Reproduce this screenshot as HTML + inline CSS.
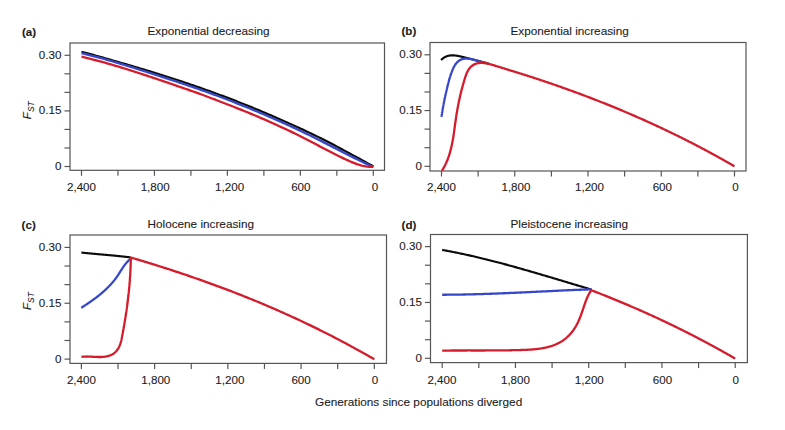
<!DOCTYPE html>
<html><head><meta charset="utf-8"><style>
html,body{margin:0;padding:0;background:#fff;}
svg{display:block;}
.t{font-family:"Liberation Sans",sans-serif;font-size:11.6px;fill:#1c1c1c;stroke:#1c1c1c;stroke-width:0.1px;}
.b{font-weight:bold;}
</style></head><body>
<svg width="785" height="430" viewBox="0 0 785 430">
<rect width="785" height="430" fill="#fff"/>
<defs>
<clipPath id="ca"><rect x="70" y="43" width="314.5" height="127.3"/></clipPath>
<clipPath id="cb"><rect x="430" y="42.5" width="316" height="128.5"/></clipPath>
<clipPath id="cc"><rect x="70" y="235" width="316.5" height="128.4"/></clipPath>
<clipPath id="cd"><rect x="430.5" y="234.5" width="316.9" height="128.1"/></clipPath>
</defs>
<rect x="70" y="43" width="314.5" height="127.30000000000001" fill="none" stroke="#555" stroke-width="1.2"/>
<line x1="81.50" y1="170.3" x2="81.50" y2="175.8" stroke="#555" stroke-width="1.2"/>
<line x1="117.97" y1="170.3" x2="117.97" y2="175.8" stroke="#555" stroke-width="1.2"/>
<line x1="154.45" y1="170.3" x2="154.45" y2="175.8" stroke="#555" stroke-width="1.2"/>
<line x1="190.93" y1="170.3" x2="190.93" y2="175.8" stroke="#555" stroke-width="1.2"/>
<line x1="227.40" y1="170.3" x2="227.40" y2="175.8" stroke="#555" stroke-width="1.2"/>
<line x1="263.88" y1="170.3" x2="263.88" y2="175.8" stroke="#555" stroke-width="1.2"/>
<line x1="300.35" y1="170.3" x2="300.35" y2="175.8" stroke="#555" stroke-width="1.2"/>
<line x1="336.83" y1="170.3" x2="336.83" y2="175.8" stroke="#555" stroke-width="1.2"/>
<line x1="373.30" y1="170.3" x2="373.30" y2="175.8" stroke="#555" stroke-width="1.2"/>
<text x="81.50" y="190.60" text-anchor="middle" class="t">2,400</text>
<text x="155.15" y="190.60" text-anchor="middle" class="t">1,800</text>
<text x="229.60" y="190.60" text-anchor="middle" class="t">1,200</text>
<text x="300.85" y="190.60" text-anchor="middle" class="t">600</text>
<text x="374.90" y="190.60" text-anchor="middle" class="t">0</text>
<line x1="64.5" y1="166.50" x2="70" y2="166.50" stroke="#555" stroke-width="1.2"/>
<line x1="64.5" y1="147.97" x2="70" y2="147.97" stroke="#555" stroke-width="1.2"/>
<line x1="64.5" y1="129.43" x2="70" y2="129.43" stroke="#555" stroke-width="1.2"/>
<line x1="64.5" y1="110.90" x2="70" y2="110.90" stroke="#555" stroke-width="1.2"/>
<line x1="64.5" y1="92.37" x2="70" y2="92.37" stroke="#555" stroke-width="1.2"/>
<line x1="64.5" y1="73.83" x2="70" y2="73.83" stroke="#555" stroke-width="1.2"/>
<line x1="64.5" y1="55.30" x2="70" y2="55.30" stroke="#555" stroke-width="1.2"/>
<text x="61.40" y="170.00" text-anchor="end" class="t">0</text>
<text x="61.40" y="114.40" text-anchor="end" class="t">0.15</text>
<text x="61.40" y="58.80" text-anchor="end" class="t">0.30</text>
<text x="22" y="35.6" class="t b">(a)</text>
<text x="147.5" y="34.7" class="t" style="font-size:11.75px">Exponential decreasing</text>
<text transform="translate(31,119.20) rotate(-90)" class="t"><tspan font-style="italic">F</tspan><tspan font-style="italic" font-size="8.4" dy="2.8">ST</tspan></text>
<rect x="430" y="42.5" width="316" height="128.5" fill="none" stroke="#555" stroke-width="1.2"/>
<line x1="441.50" y1="171" x2="441.50" y2="176.5" stroke="#555" stroke-width="1.2"/>
<line x1="478.12" y1="171" x2="478.12" y2="176.5" stroke="#555" stroke-width="1.2"/>
<line x1="514.75" y1="171" x2="514.75" y2="176.5" stroke="#555" stroke-width="1.2"/>
<line x1="551.38" y1="171" x2="551.38" y2="176.5" stroke="#555" stroke-width="1.2"/>
<line x1="588.00" y1="171" x2="588.00" y2="176.5" stroke="#555" stroke-width="1.2"/>
<line x1="624.62" y1="171" x2="624.62" y2="176.5" stroke="#555" stroke-width="1.2"/>
<line x1="661.25" y1="171" x2="661.25" y2="176.5" stroke="#555" stroke-width="1.2"/>
<line x1="697.88" y1="171" x2="697.88" y2="176.5" stroke="#555" stroke-width="1.2"/>
<line x1="734.50" y1="171" x2="734.50" y2="176.5" stroke="#555" stroke-width="1.2"/>
<text x="441.50" y="191.30" text-anchor="middle" class="t">2,400</text>
<text x="515.95" y="191.30" text-anchor="middle" class="t">1,800</text>
<text x="589.50" y="191.30" text-anchor="middle" class="t">1,200</text>
<text x="662.35" y="191.30" text-anchor="middle" class="t">600</text>
<text x="735.40" y="191.30" text-anchor="middle" class="t">0</text>
<line x1="424.5" y1="166.30" x2="430" y2="166.30" stroke="#555" stroke-width="1.2"/>
<line x1="424.5" y1="147.72" x2="430" y2="147.72" stroke="#555" stroke-width="1.2"/>
<line x1="424.5" y1="129.13" x2="430" y2="129.13" stroke="#555" stroke-width="1.2"/>
<line x1="424.5" y1="110.55" x2="430" y2="110.55" stroke="#555" stroke-width="1.2"/>
<line x1="424.5" y1="91.97" x2="430" y2="91.97" stroke="#555" stroke-width="1.2"/>
<line x1="424.5" y1="73.38" x2="430" y2="73.38" stroke="#555" stroke-width="1.2"/>
<line x1="424.5" y1="54.80" x2="430" y2="54.80" stroke="#555" stroke-width="1.2"/>
<text x="421.90" y="169.80" text-anchor="end" class="t">0</text>
<text x="421.90" y="114.05" text-anchor="end" class="t">0.15</text>
<text x="421.90" y="58.30" text-anchor="end" class="t">0.30</text>
<text x="401.5" y="35.3" class="t b">(b)</text>
<text x="510.5" y="34.7" class="t" style="font-size:11.75px">Exponential increasing</text>
<rect x="70" y="235" width="316.5" height="128.39999999999998" fill="none" stroke="#555" stroke-width="1.2"/>
<line x1="81.40" y1="363.4" x2="81.40" y2="368.9" stroke="#555" stroke-width="1.2"/>
<line x1="118.01" y1="363.4" x2="118.01" y2="368.9" stroke="#555" stroke-width="1.2"/>
<line x1="154.62" y1="363.4" x2="154.62" y2="368.9" stroke="#555" stroke-width="1.2"/>
<line x1="191.24" y1="363.4" x2="191.24" y2="368.9" stroke="#555" stroke-width="1.2"/>
<line x1="227.85" y1="363.4" x2="227.85" y2="368.9" stroke="#555" stroke-width="1.2"/>
<line x1="264.46" y1="363.4" x2="264.46" y2="368.9" stroke="#555" stroke-width="1.2"/>
<line x1="301.07" y1="363.4" x2="301.07" y2="368.9" stroke="#555" stroke-width="1.2"/>
<line x1="337.69" y1="363.4" x2="337.69" y2="368.9" stroke="#555" stroke-width="1.2"/>
<line x1="374.30" y1="363.4" x2="374.30" y2="368.9" stroke="#555" stroke-width="1.2"/>
<text x="81.40" y="383.70" text-anchor="middle" class="t">2,400</text>
<text x="155.82" y="383.70" text-anchor="middle" class="t">1,800</text>
<text x="229.85" y="383.70" text-anchor="middle" class="t">1,200</text>
<text x="301.07" y="383.70" text-anchor="middle" class="t">600</text>
<text x="375.10" y="383.70" text-anchor="middle" class="t">0</text>
<line x1="64.5" y1="359.10" x2="70" y2="359.10" stroke="#555" stroke-width="1.2"/>
<line x1="64.5" y1="340.48" x2="70" y2="340.48" stroke="#555" stroke-width="1.2"/>
<line x1="64.5" y1="321.87" x2="70" y2="321.87" stroke="#555" stroke-width="1.2"/>
<line x1="64.5" y1="303.25" x2="70" y2="303.25" stroke="#555" stroke-width="1.2"/>
<line x1="64.5" y1="284.63" x2="70" y2="284.63" stroke="#555" stroke-width="1.2"/>
<line x1="64.5" y1="266.02" x2="70" y2="266.02" stroke="#555" stroke-width="1.2"/>
<line x1="64.5" y1="247.40" x2="70" y2="247.40" stroke="#555" stroke-width="1.2"/>
<text x="61.40" y="362.60" text-anchor="end" class="t">0</text>
<text x="61.40" y="306.75" text-anchor="end" class="t">0.15</text>
<text x="61.40" y="250.90" text-anchor="end" class="t">0.30</text>
<text x="21.6" y="228.5" class="t b">(c)</text>
<text x="147.5" y="228.4" class="t" style="font-size:11.75px">Holocene increasing</text>
<text transform="translate(31,310.05) rotate(-90)" class="t"><tspan font-style="italic">F</tspan><tspan font-style="italic" font-size="8.4" dy="2.8">ST</tspan></text>
<rect x="430.5" y="234.5" width="316.9" height="128.10000000000002" fill="none" stroke="#555" stroke-width="1.2"/>
<line x1="442.20" y1="362.6" x2="442.20" y2="368.1" stroke="#555" stroke-width="1.2"/>
<line x1="478.82" y1="362.6" x2="478.82" y2="368.1" stroke="#555" stroke-width="1.2"/>
<line x1="515.45" y1="362.6" x2="515.45" y2="368.1" stroke="#555" stroke-width="1.2"/>
<line x1="552.08" y1="362.6" x2="552.08" y2="368.1" stroke="#555" stroke-width="1.2"/>
<line x1="588.70" y1="362.6" x2="588.70" y2="368.1" stroke="#555" stroke-width="1.2"/>
<line x1="625.33" y1="362.6" x2="625.33" y2="368.1" stroke="#555" stroke-width="1.2"/>
<line x1="661.95" y1="362.6" x2="661.95" y2="368.1" stroke="#555" stroke-width="1.2"/>
<line x1="698.58" y1="362.6" x2="698.58" y2="368.1" stroke="#555" stroke-width="1.2"/>
<line x1="735.20" y1="362.6" x2="735.20" y2="368.1" stroke="#555" stroke-width="1.2"/>
<text x="441.90" y="384.00" text-anchor="middle" class="t">2,400</text>
<text x="515.45" y="384.00" text-anchor="middle" class="t">1,800</text>
<text x="589.30" y="384.00" text-anchor="middle" class="t">1,200</text>
<text x="662.45" y="384.00" text-anchor="middle" class="t">600</text>
<text x="735.70" y="384.00" text-anchor="middle" class="t">0</text>
<line x1="425.0" y1="358.30" x2="430.5" y2="358.30" stroke="#555" stroke-width="1.2"/>
<line x1="425.0" y1="339.68" x2="430.5" y2="339.68" stroke="#555" stroke-width="1.2"/>
<line x1="425.0" y1="321.07" x2="430.5" y2="321.07" stroke="#555" stroke-width="1.2"/>
<line x1="425.0" y1="302.45" x2="430.5" y2="302.45" stroke="#555" stroke-width="1.2"/>
<line x1="425.0" y1="283.83" x2="430.5" y2="283.83" stroke="#555" stroke-width="1.2"/>
<line x1="425.0" y1="265.22" x2="430.5" y2="265.22" stroke="#555" stroke-width="1.2"/>
<line x1="425.0" y1="246.60" x2="430.5" y2="246.60" stroke="#555" stroke-width="1.2"/>
<text x="421.90" y="361.80" text-anchor="end" class="t">0</text>
<text x="421.90" y="305.95" text-anchor="end" class="t">0.15</text>
<text x="421.90" y="250.10" text-anchor="end" class="t">0.30</text>
<text x="401.6" y="228.5" class="t b">(d)</text>
<text x="510.5" y="228.4" class="t" style="font-size:11.75px">Pleistocene increasing</text>
<g clip-path="url(#ca)"><path d="M81.50,51.68 L83.46,52.22 L85.42,52.75 L87.38,53.29 L89.33,53.83 L91.29,54.37 L93.25,54.91 L95.21,55.45 L97.17,55.99 L99.13,56.54 L101.08,57.09 L103.04,57.64 L105.00,58.19 L106.96,58.74 L108.92,59.30 L110.88,59.86 L112.83,60.42 L114.79,60.98 L116.75,61.55 L118.71,62.11 L120.67,62.68 L122.63,63.25 L124.58,63.82 L126.54,64.39 L128.50,64.97 L130.46,65.54 L132.42,66.12 L134.38,66.69 L136.33,67.27 L138.29,67.86 L140.25,68.44 L142.21,69.03 L144.17,69.62 L146.13,70.21 L148.09,70.80 L150.04,71.40 L152.00,72.00 L153.96,72.61 L155.92,73.22 L157.88,73.83 L159.84,74.44 L161.79,75.06 L163.75,75.68 L165.71,76.30 L167.67,76.93 L169.63,77.56 L171.59,78.19 L173.54,78.82 L175.50,79.46 L177.46,80.10 L179.42,80.75 L181.38,81.39 L183.34,82.05 L185.29,82.70 L187.25,83.36 L189.21,84.02 L191.17,84.68 L193.13,85.35 L195.09,86.03 L197.04,86.70 L199.00,87.38 L200.96,88.07 L202.92,88.76 L204.88,89.45 L206.84,90.15 L208.80,90.85 L210.75,91.56 L212.71,92.27 L214.67,92.98 L216.63,93.70 L218.59,94.42 L220.55,95.15 L222.50,95.88 L224.46,96.61 L226.42,97.35 L228.38,98.09 L230.34,98.84 L232.30,99.59 L234.25,100.35 L236.21,101.11 L238.17,101.88 L240.13,102.65 L242.09,103.42 L244.05,104.20 L246.00,104.98 L247.96,105.77 L249.92,106.56 L251.88,107.36 L253.84,108.16 L255.80,108.97 L257.76,109.78 L259.71,110.60 L261.67,111.42 L263.63,112.25 L265.59,113.08 L267.55,113.92 L269.51,114.76 L271.46,115.61 L273.42,116.47 L275.38,117.33 L277.34,118.19 L279.30,119.06 L281.26,119.92 L283.21,120.77 L285.17,121.63 L287.13,122.49 L289.09,123.36 L291.05,124.23 L293.01,125.11 L294.96,125.99 L296.92,126.89 L298.88,127.78 L300.84,128.69 L302.80,129.60 L304.76,130.51 L306.71,131.44 L308.67,132.37 L310.63,133.30 L312.59,134.24 L314.55,135.19 L316.51,136.14 L318.47,137.10 L320.42,138.07 L322.38,139.05 L324.34,140.03 L326.30,141.01 L328.26,142.01 L330.22,143.01 L332.17,144.03 L334.13,145.06 L336.09,146.10 L338.05,147.14 L340.01,148.19 L341.97,149.25 L343.92,150.32 L345.88,151.39 L347.84,152.47 L349.80,153.55 L351.76,154.59 L353.72,155.63 L355.67,156.68 L357.63,157.74 L359.59,158.80 L361.55,159.87 L363.51,160.93 L365.47,162.00 L367.42,163.07 L369.38,164.15 L371.34,165.24 L373.30,166.33" fill="none" stroke="#0b0b0b" stroke-width="2.15" stroke-linejoin="round" stroke-linecap="butt"/><path d="M81.50,53.23 L83.46,53.69 L85.42,54.16 L87.38,54.64 L89.33,55.12 L91.29,55.62 L93.25,56.12 L95.21,56.62 L97.17,57.13 L99.13,57.65 L101.08,58.18 L103.04,58.72 L105.00,59.26 L106.96,59.81 L108.92,60.37 L110.88,60.93 L112.83,61.50 L114.79,62.07 L116.75,62.64 L118.71,63.22 L120.67,63.81 L122.63,64.40 L124.58,64.99 L126.54,65.58 L128.50,66.18 L130.46,66.79 L132.42,67.40 L134.38,68.01 L136.33,68.62 L138.29,69.24 L140.25,69.86 L142.21,70.48 L144.17,71.10 L146.13,71.73 L148.09,72.35 L150.04,72.98 L152.00,73.62 L153.96,74.25 L155.92,74.88 L157.88,75.52 L159.84,76.15 L161.79,76.79 L163.75,77.43 L165.71,78.06 L167.67,78.70 L169.63,79.34 L171.59,79.98 L173.54,80.62 L175.50,81.27 L177.46,81.91 L179.42,82.56 L181.38,83.21 L183.34,83.86 L185.29,84.52 L187.25,85.18 L189.21,85.84 L191.17,86.50 L193.13,87.16 L195.09,87.83 L197.04,88.50 L199.00,89.18 L200.96,89.86 L202.92,90.56 L204.88,91.26 L206.84,91.96 L208.80,92.67 L210.75,93.38 L212.71,94.09 L214.67,94.81 L216.63,95.54 L218.59,96.27 L220.55,97.00 L222.50,97.74 L224.46,98.48 L226.42,99.23 L228.38,99.99 L230.34,100.75 L232.30,101.51 L234.25,102.28 L236.21,103.06 L238.17,103.84 L240.13,104.62 L242.09,105.40 L244.05,106.18 L246.00,106.97 L247.96,107.76 L249.92,108.56 L251.88,109.36 L253.84,110.17 L255.80,110.98 L257.76,111.80 L259.71,112.62 L261.67,113.45 L263.63,114.29 L265.59,115.13 L267.55,115.97 L269.51,116.82 L271.46,117.68 L273.42,118.54 L275.38,119.40 L277.34,120.28 L279.30,121.15 L281.26,122.03 L283.21,122.91 L285.17,123.79 L287.13,124.68 L289.09,125.57 L291.05,126.47 L293.01,127.38 L294.96,128.29 L296.92,129.21 L298.88,130.13 L300.84,131.06 L302.80,131.99 L304.76,132.93 L306.71,133.87 L308.67,134.82 L310.63,135.78 L312.59,136.74 L314.55,137.71 L316.51,138.68 L318.47,139.66 L320.42,140.64 L322.38,141.63 L324.34,142.63 L326.30,143.63 L328.26,144.63 L330.22,145.64 L332.17,146.63 L334.13,147.62 L336.09,148.62 L338.05,149.62 L340.01,150.63 L341.97,151.64 L343.92,152.65 L345.88,153.66 L347.84,154.67 L349.80,155.69 L351.76,156.67 L353.72,157.64 L355.67,158.62 L357.63,159.59 L359.59,160.56 L361.55,161.53 L363.51,162.48 L365.47,163.41 L367.42,164.35 L369.38,165.27 L371.34,166.20 L373.30,167.11" fill="none" stroke="#3747cc" stroke-width="2.3" stroke-linejoin="round" stroke-linecap="butt"/><path d="M81.50,56.66 L83.46,57.12 L85.42,57.59 L87.38,58.07 L89.33,58.56 L91.29,59.05 L93.25,59.56 L95.21,60.07 L97.17,60.59 L99.13,61.11 L101.08,61.65 L103.04,62.19 L105.00,62.73 L106.96,63.28 L108.92,63.84 L110.88,64.41 L112.83,64.98 L114.79,65.55 L116.75,66.14 L118.71,66.72 L120.67,67.32 L122.63,67.92 L124.58,68.52 L126.54,69.13 L128.50,69.74 L130.46,70.36 L132.42,70.98 L134.38,71.61 L136.33,72.24 L138.29,72.88 L140.25,73.51 L142.21,74.16 L144.17,74.80 L146.13,75.45 L148.09,76.10 L150.04,76.75 L152.00,77.40 L153.96,78.06 L155.92,78.71 L157.88,79.37 L159.84,80.03 L161.79,80.69 L163.75,81.36 L165.71,82.02 L167.67,82.69 L169.63,83.35 L171.59,84.02 L173.54,84.69 L175.50,85.37 L177.46,86.04 L179.42,86.72 L181.38,87.39 L183.34,88.07 L185.29,88.75 L187.25,89.44 L189.21,90.12 L191.17,90.81 L193.13,91.50 L195.09,92.19 L197.04,92.88 L199.00,93.58 L200.96,94.29 L202.92,95.02 L204.88,95.76 L206.84,96.49 L208.80,97.23 L210.75,97.97 L212.71,98.71 L214.67,99.45 L216.63,100.20 L218.59,100.95 L220.55,101.70 L222.50,102.46 L224.46,103.22 L226.42,103.98 L228.38,104.74 L230.34,105.51 L232.30,106.28 L234.25,107.05 L236.21,107.83 L238.17,108.61 L240.13,109.40 L242.09,110.18 L244.05,110.97 L246.00,111.76 L247.96,112.56 L249.92,113.36 L251.88,114.17 L253.84,114.99 L255.80,115.81 L257.76,116.64 L259.71,117.47 L261.67,118.32 L263.63,119.17 L265.59,120.02 L267.55,120.89 L269.51,121.76 L271.46,122.64 L273.42,123.52 L275.38,124.42 L277.34,125.33 L279.30,126.24 L281.26,127.13 L283.21,128.02 L285.17,128.92 L287.13,129.82 L289.09,130.74 L291.05,131.66 L293.01,132.60 L294.96,133.55 L296.92,134.51 L298.88,135.48 L300.84,136.46 L302.80,137.45 L304.76,138.45 L306.71,139.46 L308.67,140.48 L310.63,141.50 L312.59,142.53 L314.55,143.56 L316.51,144.59 L318.47,145.63 L320.42,146.67 L322.38,147.71 L324.34,148.74 L326.30,149.77 L328.26,150.80 L330.22,151.82 L332.17,152.82 L334.13,153.80 L336.09,154.78 L338.05,155.75 L340.01,156.71 L341.97,157.65 L343.92,158.59 L345.88,159.51 L347.84,160.41 L349.80,161.29 L351.76,162.11 L353.72,162.89 L355.67,163.63 L357.63,164.33 L359.59,164.96 L361.55,165.52 L363.51,165.99 L365.47,166.37 L367.42,166.65 L369.38,166.81 L371.34,166.84 L373.30,166.74" fill="none" stroke="#d61c2c" stroke-width="2.3" stroke-linejoin="round" stroke-linecap="butt"/></g>
<g clip-path="url(#cb)"><path d="M441.05,60.04 L441.19,59.90 L441.34,59.76 L441.48,59.62 L441.62,59.49 L441.76,59.36 L441.91,59.23 L442.05,59.10 L442.20,58.98 L442.34,58.85 L442.49,58.73 L442.63,58.62 L442.78,58.50 L442.92,58.39 L443.07,58.28 L443.22,58.17 L443.36,58.07 L443.51,57.96 L443.66,57.86 L443.81,57.76 L443.96,57.67 L444.11,57.57 L444.25,57.48 L444.40,57.39 L444.55,57.31 L444.71,57.22 L444.86,57.14 L445.01,57.06 L445.16,56.98 L445.31,56.90 L445.46,56.83 L445.61,56.76 L445.77,56.69 L445.92,56.62 L446.07,56.55 L446.23,56.49 L446.38,56.42 L446.54,56.36 L446.69,56.31 L446.85,56.25 L447.00,56.20 L447.16,56.14 L447.31,56.09 L447.47,56.04 L447.62,56.00 L447.78,55.95 L447.94,55.91 L448.09,55.87 L448.25,55.83 L448.41,55.79 L448.57,55.75 L448.73,55.72 L448.88,55.68 L449.04,55.65 L449.20,55.62 L449.36,55.59 L449.52,55.57 L449.68,55.54 L449.84,55.52 L450.00,55.50 L450.16,55.48 L450.32,55.46 L450.48,55.44 L450.64,55.43 L450.80,55.41 L450.96,55.40 L451.12,55.39 L451.29,55.38 L451.45,55.37 L451.61,55.36 L451.77,55.35 L451.94,55.35 L452.10,55.35 L452.26,55.34 L452.42,55.34 L452.59,55.34 L452.75,55.35 L452.91,55.35 L453.08,55.35 L453.24,55.36 L453.40,55.36 L453.57,55.37 L453.73,55.38 L453.90,55.39 L454.06,55.40 L454.23,55.41 L454.39,55.42 L454.56,55.44 L454.72,55.45 L454.89,55.47 L455.05,55.49 L455.22,55.50 L455.38,55.52 L455.55,55.54 L455.71,55.56 L455.88,55.58 L456.05,55.60 L456.21,55.63 L456.38,55.65 L456.54,55.68 L456.71,55.70 L456.88,55.73 L457.04,55.75 L457.21,55.78 L457.38,55.81 L457.54,55.84 L457.71,55.87 L457.88,55.90 L458.04,55.93 L458.21,55.96 L458.38,55.99 L458.55,56.02 L458.71,56.06 L458.88,56.09 L459.05,56.13 L459.21,56.16 L459.38,56.19 L459.55,56.23 L459.72,56.27 L459.88,56.30 L460.05,56.34 L460.22,56.38 L460.38,56.41 L460.55,56.45 L460.72,56.49 L460.89,56.53 L461.05,56.57 L461.22,56.61 L461.39,56.64 L461.56,56.68 L461.72,56.72 L461.89,56.76 L462.06,56.80 L462.23,56.84 L462.39,56.88 L462.56,56.92 L462.73,56.96 L462.89,57.00 L463.06,57.04 L463.23,57.09 L463.39,57.13 L463.56,57.17 L463.73,57.21 L463.90,57.25 L464.06,57.29 L464.23,57.33 L464.40,57.37 L464.56,57.41 L464.73,57.45 L464.90,57.49 L465.06,57.53 L465.23,57.57 L465.40,57.62 L465.56,57.66 L465.73,57.70 L465.89,57.74 L466.06,57.78 L466.23,57.82 L466.39,57.86 L466.56,57.90 L466.72,57.94 L466.89,57.98 L467.06,58.03 L467.22,58.07 L467.39,58.11 L467.55,58.15 L467.72,58.19 L467.89,58.23 L468.05,58.27 L468.22,58.32 L468.38,58.36 L468.55,58.40 L468.71,58.44 L468.88,58.48 L469.05,58.52 L469.21,58.56 L469.38,58.61 L469.54,58.65 L469.71,58.69 L469.87,58.73 L470.04,58.77 L470.20,58.81 L470.37,58.86 L470.53,58.90 L470.70,58.94 L470.86,58.98 L471.03,59.02 L471.19,59.07 L471.36,59.11 L471.52,59.15 L471.69,59.19 L471.85,59.23 L472.02,59.28 L472.18,59.32 L472.35,59.36 L472.51,59.40 L472.68,59.44 L472.84,59.49 L473.01,59.53 L473.17,59.57 L473.34,59.61 L473.50,59.66 L473.67,59.70 L473.83,59.74 L473.99,59.78 L474.16,59.83 L474.32,59.87 L474.49,59.91 L474.65,59.95 L474.82,60.00 L474.98,60.04 L475.15,60.08 L475.31,60.12 L475.47,60.17 L475.64,60.21 L475.80,60.25 L475.97,60.29 L476.13,60.34 L476.29,60.38 L476.46,60.42 L476.62,60.47 L476.79,60.51 L476.95,60.55 L477.11,60.60 L477.28,60.64 L477.44,60.68 L477.61,60.72 L477.77,60.77 L477.93,60.81 L478.10,60.85 L478.26,60.90 L478.42,60.94 L478.59,60.98 L478.75,61.03 L478.92,61.07 L479.08,61.11 L479.24,61.16 L479.41,61.20 L479.57,61.24 L479.73,61.29 L479.90,61.33 L480.06,61.37 L480.22,61.42 L480.39,61.46 L480.55,61.51 L480.71,61.55 L480.88,61.59 L481.04,61.64 L481.20,61.68 L481.37,61.72 L481.53,61.77 L481.69,61.81 L481.86,61.86 L482.02,61.90 L482.18,61.94 L482.35,61.99 L482.51,62.03 L482.67,62.08 L482.84,62.12 L483.00,62.16 L483.16,62.21 L483.32,62.25 L483.49,62.30 L483.65,62.34 L483.81,62.38 L483.98,62.43 L484.14,62.47 L484.30,62.52 L484.47,62.56 L484.63,62.61 L484.79,62.65 L484.95,62.69 L485.12,62.74 L485.28,62.78 L485.44,62.83 L485.61,62.87 L485.77,62.92 L485.93,62.96 L486.09,63.01 L486.26,63.05 L486.42,63.10 L486.58,63.14 L486.74,63.19 L486.91,63.23 L487.07,63.28 L487.23,63.32 L487.40,63.37 L487.56,63.41 L487.72,63.46 L487.88,63.50 L488.05,63.55 L488.21,63.59 L488.37,63.64 L488.53,63.68 L488.70,63.73 L488.86,63.77 L489.02,63.82 L489.18,63.86 L489.35,63.91 L489.51,63.95" fill="none" stroke="#0b0b0b" stroke-width="2.15" stroke-linejoin="round" stroke-linecap="butt"/><path d="M441.46,116.93 L441.50,116.63 L441.54,116.34 L441.58,116.04 L441.63,115.75 L441.67,115.46 L441.71,115.16 L441.76,114.87 L441.80,114.58 L441.84,114.28 L441.89,113.99 L441.93,113.70 L441.98,113.41 L442.02,113.11 L442.07,112.82 L442.11,112.53 L442.16,112.24 L442.21,111.95 L442.25,111.66 L442.30,111.37 L442.35,111.08 L442.40,110.78 L442.44,110.49 L442.49,110.20 L442.54,109.91 L442.59,109.62 L442.64,109.33 L442.69,109.04 L442.74,108.76 L442.79,108.47 L442.84,108.18 L442.89,107.89 L442.94,107.60 L442.99,107.31 L443.05,107.02 L443.10,106.73 L443.15,106.45 L443.20,106.16 L443.26,105.87 L443.31,105.58 L443.36,105.29 L443.42,105.01 L443.47,104.72 L443.53,104.43 L443.58,104.14 L443.64,103.86 L443.69,103.57 L443.75,103.28 L443.80,103.00 L443.86,102.71 L443.91,102.42 L443.97,102.14 L444.03,101.85 L444.08,101.56 L444.14,101.28 L444.20,100.99 L444.26,100.70 L444.32,100.42 L444.37,100.13 L444.43,99.85 L444.49,99.56 L444.55,99.27 L444.61,98.99 L444.67,98.70 L444.73,98.42 L444.79,98.13 L444.85,97.85 L444.91,97.56 L444.97,97.28 L445.03,96.99 L445.09,96.70 L445.16,96.42 L445.22,96.13 L445.28,95.85 L445.34,95.56 L445.40,95.28 L445.47,94.99 L445.53,94.71 L445.59,94.42 L445.66,94.14 L445.72,93.85 L445.78,93.57 L445.85,93.28 L445.91,93.00 L445.98,92.71 L446.04,92.43 L446.11,92.14 L446.17,91.86 L446.24,91.57 L446.30,91.29 L446.37,91.00 L446.44,90.72 L446.50,90.43 L446.57,90.15 L446.64,89.86 L446.70,89.58 L446.77,89.29 L446.84,89.01 L446.90,88.72 L446.97,88.44 L447.04,88.15 L447.11,87.87 L447.18,87.58 L447.25,87.29 L447.31,87.01 L447.38,86.72 L447.45,86.44 L447.52,86.15 L447.59,85.87 L447.66,85.58 L447.73,85.29 L447.80,85.01 L447.87,84.72 L447.94,84.44 L448.02,84.15 L448.09,83.87 L448.16,83.58 L448.23,83.29 L448.31,83.01 L448.38,82.72 L448.45,82.44 L448.53,82.15 L448.60,81.87 L448.68,81.58 L448.76,81.30 L448.83,81.01 L448.91,80.73 L448.99,80.44 L449.07,80.16 L449.15,79.87 L449.23,79.59 L449.31,79.30 L449.39,79.02 L449.47,78.73 L449.56,78.45 L449.64,78.16 L449.73,77.88 L449.81,77.60 L449.90,77.31 L449.99,77.03 L450.07,76.75 L450.16,76.46 L450.25,76.18 L450.34,75.90 L450.44,75.62 L450.53,75.33 L450.62,75.05 L450.72,74.77 L450.82,74.49 L450.91,74.21 L451.01,73.93 L451.11,73.65 L451.21,73.36 L451.31,73.08 L451.42,72.80 L451.52,72.52 L451.63,72.25 L451.73,71.97 L451.84,71.69 L451.95,71.41 L452.06,71.13 L452.17,70.85 L452.29,70.58 L452.40,70.30 L452.52,70.02 L452.63,69.74 L452.75,69.47 L452.87,69.19 L453.00,68.92 L453.12,68.64 L453.24,68.37 L453.37,68.10 L453.50,67.82 L453.63,67.55 L453.76,67.28 L453.90,67.02 L454.04,66.75 L454.18,66.49 L454.32,66.22 L454.46,65.96 L454.61,65.71 L454.76,65.45 L454.92,65.20 L455.07,64.95 L455.23,64.71 L455.40,64.46 L455.56,64.23 L455.73,63.99 L455.90,63.76 L456.08,63.53 L456.26,63.31 L456.45,63.09 L456.63,62.87 L456.83,62.66 L457.02,62.46 L457.22,62.25 L457.42,62.06 L457.63,61.86 L457.83,61.68 L458.05,61.49 L458.26,61.32 L458.48,61.14 L458.70,60.97 L458.92,60.81 L459.15,60.65 L459.38,60.50 L459.62,60.35 L459.85,60.21 L460.09,60.08 L460.33,59.94 L460.58,59.82 L460.83,59.70 L461.08,59.59 L461.33,59.48 L461.58,59.38 L461.84,59.28 L462.10,59.19 L462.36,59.11 L462.63,59.03 L462.90,58.96 L463.17,58.90 L463.44,58.84 L463.71,58.79 L463.99,58.74 L464.27,58.70 L464.55,58.67 L464.83,58.64 L465.11,58.62 L465.40,58.60 L465.68,58.59 L465.97,58.58 L466.26,58.58 L466.55,58.58 L466.84,58.59 L467.14,58.60 L467.43,58.62 L467.73,58.64 L468.02,58.66 L468.32,58.69 L468.62,58.72 L468.92,58.76 L469.22,58.80 L469.52,58.84 L469.82,58.89 L470.12,58.94 L470.42,58.99 L470.72,59.05 L471.03,59.10 L471.33,59.17 L471.63,59.23 L471.93,59.29 L472.23,59.36 L472.54,59.43 L472.84,59.50 L473.14,59.58 L473.44,59.65 L473.74,59.73 L474.04,59.80 L474.34,59.88 L474.64,59.96 L474.94,60.04 L475.23,60.12 L475.53,60.21 L475.82,60.29 L476.12,60.37 L476.41,60.46 L476.71,60.54 L477.00,60.62 L477.29,60.71 L477.58,60.79 L477.87,60.88 L478.16,60.96 L478.45,61.05 L478.74,61.13 L479.02,61.21 L479.31,61.29 L479.59,61.38 L479.88,61.46 L480.16,61.54 L480.44,61.62 L480.73,61.70 L481.01,61.77 L481.29,61.85 L481.57,61.93 L481.85,62.00 L482.13,62.07 L482.40,62.14 L482.68,62.21 L482.96,62.28 L483.23,62.35 L483.51,62.41 L483.78,62.47 L484.05,62.53 L484.32,62.59 L484.60,62.65 L484.87,62.70 L485.14,62.75 L485.41,62.80 L485.67,62.84 L485.94,62.88" fill="none" stroke="#3747cc" stroke-width="2.3" stroke-linejoin="round" stroke-linecap="butt"/><path d="M441.87,170.79 L442.23,170.23 L442.59,169.66 L442.93,169.09 L443.27,168.52 L443.61,167.94 L443.93,167.36 L444.25,166.78 L444.56,166.20 L444.87,165.61 L445.16,165.03 L445.46,164.44 L445.74,163.84 L446.02,163.25 L446.29,162.65 L446.56,162.05 L446.82,161.45 L447.07,160.84 L447.32,160.24 L447.56,159.63 L447.80,159.02 L448.03,158.40 L448.26,157.79 L448.48,157.17 L448.69,156.55 L448.90,155.93 L449.11,155.31 L449.31,154.69 L449.50,154.06 L449.69,153.43 L449.88,152.81 L450.06,152.18 L450.24,151.54 L450.41,150.91 L450.58,150.28 L450.74,149.64 L450.90,149.00 L451.06,148.36 L451.21,147.72 L451.36,147.08 L451.51,146.44 L451.65,145.80 L451.79,145.15 L451.93,144.50 L452.06,143.86 L452.19,143.21 L452.32,142.56 L452.44,141.91 L452.56,141.26 L452.68,140.61 L452.80,139.96 L452.91,139.31 L453.02,138.65 L453.13,138.00 L453.24,137.35 L453.35,136.69 L453.45,136.04 L453.55,135.38 L453.65,134.72 L453.75,134.07 L453.85,133.41 L453.95,132.75 L454.04,132.10 L454.13,131.44 L454.23,130.78 L454.32,130.12 L454.41,129.47 L454.50,128.81 L454.59,128.15 L454.68,127.49 L454.77,126.84 L454.86,126.18 L454.95,125.52 L455.04,124.87 L455.13,124.21 L455.21,123.56 L455.30,122.90 L455.39,122.25 L455.48,121.59 L455.58,120.94 L455.67,120.28 L455.76,119.63 L455.85,118.98 L455.95,118.33 L456.04,117.68 L456.14,117.03 L456.24,116.38 L456.34,115.73 L456.44,115.08 L456.54,114.44 L456.64,113.79 L456.75,113.15 L456.85,112.50 L456.96,111.86 L457.07,111.21 L457.18,110.57 L457.29,109.93 L457.41,109.28 L457.52,108.64 L457.64,108.00 L457.76,107.36 L457.88,106.72 L458.00,106.08 L458.12,105.44 L458.24,104.80 L458.37,104.16 L458.50,103.52 L458.63,102.88 L458.76,102.24 L458.89,101.60 L459.02,100.96 L459.16,100.32 L459.30,99.68 L459.44,99.04 L459.58,98.40 L459.72,97.76 L459.86,97.12 L460.01,96.48 L460.16,95.83 L460.31,95.19 L460.46,94.55 L460.61,93.91 L460.77,93.27 L460.93,92.62 L461.09,91.98 L461.25,91.34 L461.41,90.69 L461.58,90.05 L461.74,89.40 L461.91,88.75 L462.08,88.11 L462.26,87.46 L462.43,86.81 L462.61,86.16 L462.79,85.51 L462.97,84.86 L463.15,84.21 L463.34,83.55 L463.53,82.90 L463.72,82.24 L463.91,81.59 L464.10,80.93 L464.30,80.27 L464.50,79.61 L464.70,78.95 L464.90,78.29 L465.11,77.64 L465.32,76.98 L465.54,76.33 L465.77,75.68 L466.00,75.04 L466.24,74.40 L466.49,73.77 L466.75,73.15 L467.02,72.54 L467.30,71.94 L467.59,71.35 L467.89,70.78 L468.21,70.22 L468.54,69.67 L468.89,69.14 L469.25,68.63 L469.63,68.13 L470.03,67.66 L470.44,67.20 L470.87,66.77 L471.33,66.35 L471.80,65.96 L472.29,65.60 L472.79,65.25 L473.31,64.93 L473.85,64.63 L474.40,64.36 L474.96,64.11 L475.53,63.88 L476.11,63.67 L476.70,63.49 L477.30,63.34 L477.90,63.20 L478.51,63.10 L479.13,63.01 L479.75,62.95 L480.38,62.91 L481.01,62.89 L481.65,62.89 L482.29,62.91 L482.93,62.94 L483.58,62.99 L484.23,63.06 L484.88,63.15 L485.54,63.25 L486.20,63.36 L486.86,63.48 L487.52,63.62 L488.18,63.77 L488.85,63.92 L489.52,64.09 L490.19,64.26 L490.85,64.45 L491.52,64.63 L492.19,64.83 L492.86,65.02 L493.53,65.22 L494.19,65.43 L494.86,65.63 L495.52,65.84 L496.18,66.04 L496.84,66.25 L497.50,66.45 L498.16,66.66 L498.81,66.86 L499.47,67.06 L500.12,67.26 L500.77,67.46 L501.42,67.66 L502.06,67.86 L502.71,68.06 L503.35,68.26 L504.00,68.46 L504.64,68.66 L505.28,68.85 L505.91,69.05 L506.55,69.25 L507.19,69.44 L507.82,69.64 L508.45,69.84 L509.09,70.03 L509.72,70.23 L510.35,70.42 L510.98,70.62 L511.61,70.81 L512.23,71.00 L512.86,71.20 L513.48,71.39 L514.11,71.58 L514.73,71.78 L515.36,71.97 L515.98,72.17 L516.60,72.36 L517.22,72.55 L517.84,72.75 L518.46,72.94 L519.08,73.13 L519.70,73.33 L520.32,73.52 L520.94,73.71 L521.56,73.91 L522.18,74.10 L522.80,74.30 L523.42,74.49 L524.03,74.69 L524.65,74.88 L525.27,75.08 L525.89,75.28 L526.50,75.47 L527.12,75.67 L527.74,75.87 L528.36,76.06 L528.98,76.26 L529.60,76.46 L530.22,76.66 L530.83,76.86 L531.45,77.06 L532.07,77.26 L532.69,77.46 L533.31,77.66 L533.93,77.86 L534.55,78.06 L535.17,78.27 L535.79,78.47 L536.41,78.67 L537.03,78.88 L537.65,79.08 L538.27,79.28 L538.89,79.49 L539.52,79.70 L540.14,79.90 L540.76,80.11 L541.38,80.31 L542.00,80.52 L542.62,80.73 L543.24,80.94 L543.87,81.14 L544.49,81.35 L545.11,81.56 L545.73,81.77 L546.35,81.98 L546.97,82.19 L547.60,82.40 L548.22,82.61 L548.84,82.83 L549.46,83.04 L550.09,83.25 L550.71,83.46 L551.33,83.68 L551.95,83.89 L552.58,84.10 L553.20,84.32 L553.82,84.53 L554.44,84.75 L555.07,84.97 L555.69,85.18 L556.31,85.40 L556.94,85.61 L557.56,85.83 L558.18,86.05 L558.80,86.27 L559.43,86.49 L560.05,86.70 L560.67,86.92 L561.29,87.14 L561.92,87.36 L562.54,87.58 L563.16,87.80 L563.79,88.03 L564.41,88.25 L565.03,88.47 L565.65,88.69 L566.28,88.91 L566.90,89.14 L567.52,89.36 L568.14,89.59 L568.77,89.81 L569.39,90.03 L570.01,90.26 L570.63,90.48 L571.25,90.71 L571.88,90.94 L572.50,91.16 L573.12,91.39 L573.74,91.62 L574.36,91.84 L574.99,92.07 L575.61,92.30 L576.23,92.53 L576.85,92.76 L577.47,92.99 L578.09,93.22 L578.71,93.45 L579.33,93.68 L579.95,93.91 L580.58,94.14 L581.20,94.37 L581.82,94.60 L582.44,94.84 L583.06,95.07 L583.68,95.30 L584.30,95.54 L584.92,95.77 L585.54,96.00 L586.15,96.24 L586.77,96.47 L587.39,96.71 L588.01,96.94 L588.63,97.18 L589.25,97.42 L589.87,97.65 L590.49,97.89 L591.10,98.13 L591.72,98.36 L592.34,98.60 L592.96,98.84 L593.57,99.08 L594.19,99.32 L594.81,99.56 L595.42,99.80 L596.04,100.04 L596.66,100.28 L597.27,100.52 L597.89,100.76 L598.50,101.00 L599.12,101.24 L599.73,101.48 L600.35,101.73 L600.96,101.97 L601.58,102.21 L602.19,102.46 L602.81,102.70 L603.42,102.94 L604.04,103.19 L604.65,103.43 L605.26,103.68 L605.88,103.92 L606.49,104.17 L607.10,104.42 L607.71,104.66 L608.33,104.91 L608.94,105.16 L609.55,105.40 L610.16,105.65 L610.78,105.90 L611.39,106.15 L612.00,106.40 L612.61,106.65 L613.22,106.90 L613.83,107.15 L614.44,107.40 L615.05,107.65 L615.66,107.90 L616.27,108.15 L616.88,108.40 L617.49,108.66 L618.10,108.91 L618.71,109.16 L619.32,109.42 L619.93,109.67 L620.54,109.92 L621.15,110.18 L621.76,110.43 L622.36,110.69 L622.97,110.95 L623.58,111.20 L624.19,111.46 L624.79,111.71 L625.40,111.97 L626.01,112.23 L626.62,112.49 L627.22,112.74 L627.83,113.00 L628.44,113.26 L629.04,113.52 L629.65,113.78 L630.25,114.04 L630.86,114.30 L631.46,114.56 L632.07,114.82 L632.67,115.09 L633.28,115.35 L633.88,115.61 L634.49,115.87 L635.09,116.14 L635.70,116.40 L636.30,116.66 L636.90,116.93 L637.51,117.19 L638.11,117.46 L638.71,117.72 L639.32,117.99 L639.92,118.25 L640.52,118.52 L641.12,118.79 L641.73,119.05 L642.33,119.32 L642.93,119.59 L643.53,119.86 L644.13,120.13 L644.73,120.40 L645.34,120.67 L645.94,120.94 L646.54,121.21 L647.14,121.48 L647.74,121.75 L648.34,122.02 L648.94,122.29 L649.54,122.56 L650.14,122.83 L650.74,123.11 L651.34,123.38 L651.93,123.65 L652.53,123.93 L653.13,124.20 L653.73,124.48 L654.33,124.75 L654.93,125.03 L655.52,125.31 L656.12,125.58 L656.72,125.86 L657.32,126.14 L657.91,126.41 L658.51,126.69 L659.11,126.97 L659.70,127.25 L660.30,127.53 L660.90,127.81 L661.49,128.09 L662.09,128.37 L662.68,128.65 L663.28,128.93 L663.87,129.21 L664.47,129.49 L665.06,129.78 L665.66,130.06 L666.25,130.34 L666.85,130.62 L667.44,130.91 L668.03,131.19 L668.63,131.48 L669.22,131.76 L669.82,132.05 L670.41,132.33 L671.00,132.62 L671.59,132.91 L672.19,133.19 L672.78,133.48 L673.37,133.77 L673.96,134.06 L674.56,134.35 L675.15,134.64 L675.74,134.92 L676.33,135.21 L676.92,135.51 L677.51,135.80 L678.10,136.09 L678.69,136.38 L679.28,136.67 L679.87,136.96 L680.46,137.26 L681.05,137.55 L681.64,137.84 L682.23,138.14 L682.82,138.43 L683.41,138.73 L684.00,139.02 L684.59,139.32 L685.18,139.61 L685.77,139.91 L686.35,140.21 L686.94,140.50 L687.53,140.80 L688.12,141.10 L688.70,141.40 L689.29,141.70 L689.88,142.00 L690.47,142.30 L691.05,142.60 L691.64,142.90 L692.23,143.20 L692.81,143.50 L693.40,143.80 L693.98,144.10 L694.57,144.40 L695.15,144.71 L695.74,145.01 L696.32,145.32 L696.91,145.62 L697.49,145.92 L698.08,146.23 L698.66,146.54 L699.25,146.84 L699.83,147.15 L700.41,147.45 L701.00,147.76 L701.58,148.07 L702.16,148.38 L702.75,148.69 L703.33,149.00 L703.91,149.30 L704.50,149.61 L705.08,149.92 L705.66,150.24 L706.24,150.55 L706.82,150.86 L707.41,151.17 L707.99,151.48 L708.57,151.79 L709.15,152.11 L709.73,152.42 L710.31,152.74 L710.89,153.05 L711.47,153.37 L712.05,153.68 L712.63,154.00 L713.21,154.31 L713.79,154.63 L714.37,154.95 L714.95,155.26 L715.53,155.58 L716.11,155.90 L716.69,156.22 L717.26,156.54 L717.84,156.86 L718.42,157.18 L719.00,157.50 L719.58,157.82 L720.15,158.14 L720.73,158.46 L721.31,158.79 L721.88,159.11 L722.46,159.43 L723.04,159.76 L723.61,160.08 L724.19,160.40 L724.77,160.73 L725.34,161.05 L725.92,161.38 L726.49,161.71 L727.07,162.03 L727.64,162.36 L728.22,162.69 L728.79,163.02 L729.37,163.34 L729.94,163.67 L730.52,164.00 L731.09,164.33 L731.67,164.66 L732.24,164.99 L732.81,165.32 L733.39,165.66 L733.96,165.99 L734.53,166.32" fill="none" stroke="#d61c2c" stroke-width="2.3" stroke-linejoin="round" stroke-linecap="butt"/></g>
<g clip-path="url(#cc)"><path d="M81.40,252.59 L81.57,252.60 L81.73,252.62 L81.90,252.64 L82.06,252.65 L82.23,252.67 L82.39,252.69 L82.55,252.71 L82.72,252.72 L82.88,252.74 L83.05,252.76 L83.21,252.77 L83.38,252.79 L83.54,252.80 L83.71,252.82 L83.87,252.84 L84.04,252.85 L84.20,252.87 L84.37,252.89 L84.53,252.90 L84.69,252.92 L84.86,252.94 L85.02,252.95 L85.19,252.97 L85.35,252.98 L85.52,253.00 L85.68,253.02 L85.85,253.03 L86.01,253.05 L86.18,253.06 L86.34,253.08 L86.51,253.10 L86.67,253.11 L86.84,253.13 L87.00,253.14 L87.16,253.16 L87.33,253.18 L87.49,253.19 L87.66,253.21 L87.82,253.22 L87.99,253.24 L88.15,253.25 L88.32,253.27 L88.48,253.29 L88.65,253.30 L88.81,253.32 L88.98,253.33 L89.14,253.35 L89.31,253.36 L89.47,253.38 L89.64,253.39 L89.80,253.41 L89.97,253.42 L90.13,253.44 L90.30,253.46 L90.46,253.47 L90.63,253.49 L90.79,253.50 L90.96,253.52 L91.12,253.53 L91.29,253.55 L91.45,253.56 L91.62,253.58 L91.78,253.59 L91.95,253.61 L92.11,253.62 L92.28,253.64 L92.44,253.65 L92.61,253.67 L92.77,253.68 L92.94,253.70 L93.10,253.71 L93.27,253.73 L93.43,253.74 L93.60,253.76 L93.76,253.77 L93.93,253.79 L94.09,253.80 L94.26,253.82 L94.42,253.83 L94.59,253.85 L94.75,253.86 L94.92,253.88 L95.08,253.89 L95.25,253.91 L95.41,253.92 L95.58,253.94 L95.74,253.95 L95.91,253.97 L96.07,253.98 L96.24,254.00 L96.40,254.01 L96.57,254.03 L96.73,254.04 L96.90,254.06 L97.06,254.07 L97.23,254.09 L97.39,254.10 L97.56,254.11 L97.72,254.13 L97.89,254.14 L98.05,254.16 L98.22,254.17 L98.38,254.19 L98.55,254.20 L98.71,254.22 L98.88,254.23 L99.04,254.25 L99.21,254.26 L99.37,254.28 L99.54,254.29 L99.70,254.31 L99.87,254.32 L100.03,254.34 L100.20,254.35 L100.36,254.36 L100.53,254.38 L100.69,254.39 L100.86,254.41 L101.02,254.42 L101.19,254.44 L101.35,254.45 L101.52,254.47 L101.68,254.48 L101.85,254.50 L102.01,254.51 L102.18,254.53 L102.34,254.54 L102.51,254.56 L102.67,254.57 L102.84,254.59 L103.00,254.60 L103.17,254.61 L103.33,254.63 L103.50,254.64 L103.66,254.66 L103.83,254.67 L104.00,254.69 L104.16,254.70 L104.33,254.72 L104.49,254.73 L104.66,254.75 L104.82,254.76 L104.99,254.78 L105.15,254.79 L105.32,254.81 L105.48,254.82 L105.65,254.84 L105.81,254.85 L105.98,254.87 L106.14,254.88 L106.31,254.90 L106.47,254.91 L106.64,254.93 L106.80,254.94 L106.97,254.96 L107.13,254.97 L107.30,254.99 L107.46,255.00 L107.63,255.02 L107.79,255.03 L107.96,255.05 L108.12,255.06 L108.29,255.08 L108.45,255.09 L108.62,255.11 L108.78,255.12 L108.95,255.14 L109.11,255.15 L109.28,255.17 L109.44,255.18 L109.61,255.20 L109.77,255.21 L109.94,255.23 L110.10,255.24 L110.27,255.26 L110.43,255.27 L110.60,255.29 L110.76,255.30 L110.93,255.32 L111.09,255.34 L111.25,255.35 L111.42,255.37 L111.58,255.38 L111.75,255.40 L111.91,255.41 L112.08,255.43 L112.24,255.44 L112.41,255.46 L112.57,255.48 L112.74,255.49 L112.90,255.51 L113.07,255.52 L113.23,255.54 L113.40,255.55 L113.56,255.57 L113.73,255.59 L113.89,255.60 L114.06,255.62 L114.22,255.63 L114.39,255.65 L114.55,255.67 L114.72,255.68 L114.88,255.70 L115.05,255.71 L115.21,255.73 L115.38,255.75 L115.54,255.76 L115.70,255.78 L115.87,255.79 L116.03,255.81 L116.20,255.83 L116.36,255.84 L116.53,255.86 L116.69,255.88 L116.86,255.89 L117.02,255.91 L117.19,255.93 L117.35,255.94 L117.52,255.96 L117.68,255.97 L117.84,255.99 L118.01,256.01 L118.17,256.02 L118.34,256.04 L118.50,256.06 L118.67,256.08 L118.83,256.09 L119.00,256.11 L119.16,256.13 L119.33,256.14 L119.49,256.16 L119.65,256.18 L119.82,256.19 L119.98,256.21 L120.15,256.23 L120.31,256.25 L120.48,256.26 L120.64,256.28 L120.81,256.30 L120.97,256.32 L121.13,256.33 L121.30,256.35 L121.46,256.37 L121.63,256.39 L121.79,256.40 L121.96,256.42 L122.12,256.44 L122.28,256.46 L122.45,256.47 L122.61,256.49 L122.78,256.51 L122.94,256.53 L123.11,256.55 L123.27,256.56 L123.43,256.58 L123.60,256.60 L123.76,256.62 L123.93,256.64 L124.09,256.65 L124.26,256.67 L124.42,256.69 L124.58,256.71 L124.75,256.73 L124.91,256.75 L125.08,256.77 L125.24,256.78 L125.40,256.80 L125.57,256.82 L125.73,256.84 L125.90,256.86 L126.06,256.88 L126.22,256.90 L126.39,256.92 L126.55,256.94 L126.72,256.96 L126.88,256.97 L127.04,256.99 L127.21,257.01 L127.37,257.03 L127.53,257.05 L127.70,257.07 L127.86,257.09 L128.03,257.11 L128.19,257.13 L128.35,257.15 L128.52,257.17 L128.68,257.19 L128.85,257.21 L129.01,257.23 L129.17,257.25 L129.34,257.27 L129.50,257.29 L129.66,257.31 L129.83,257.33 L129.99,257.35 L130.15,257.37 L130.32,257.39 L130.48,257.41 L130.64,257.43" fill="none" stroke="#0b0b0b" stroke-width="2.15" stroke-linejoin="round" stroke-linecap="butt"/><path d="M81.23,307.79 L81.43,307.67 L81.63,307.54 L81.82,307.42 L82.02,307.29 L82.22,307.17 L82.42,307.04 L82.61,306.92 L82.81,306.79 L83.01,306.66 L83.20,306.54 L83.40,306.41 L83.60,306.28 L83.79,306.16 L83.99,306.03 L84.19,305.90 L84.38,305.78 L84.58,305.65 L84.77,305.52 L84.97,305.39 L85.17,305.26 L85.36,305.14 L85.56,305.01 L85.75,304.88 L85.95,304.75 L86.14,304.62 L86.34,304.49 L86.54,304.36 L86.73,304.23 L86.93,304.10 L87.12,303.97 L87.32,303.84 L87.51,303.71 L87.70,303.58 L87.90,303.45 L88.09,303.32 L88.29,303.19 L88.48,303.05 L88.68,302.92 L88.87,302.79 L89.06,302.66 L89.26,302.53 L89.45,302.39 L89.64,302.26 L89.84,302.13 L90.03,301.99 L90.22,301.86 L90.41,301.73 L90.61,301.59 L90.80,301.46 L90.99,301.32 L91.18,301.19 L91.37,301.05 L91.57,300.92 L91.76,300.78 L91.95,300.65 L92.14,300.51 L92.33,300.37 L92.52,300.24 L92.71,300.10 L92.90,299.96 L93.09,299.83 L93.28,299.69 L93.47,299.55 L93.66,299.41 L93.85,299.27 L94.04,299.14 L94.23,299.00 L94.42,298.86 L94.60,298.72 L94.79,298.58 L94.98,298.44 L95.17,298.30 L95.35,298.16 L95.54,298.02 L95.73,297.88 L95.92,297.74 L96.10,297.59 L96.29,297.45 L96.47,297.31 L96.66,297.17 L96.85,297.03 L97.03,296.88 L97.22,296.74 L97.40,296.60 L97.58,296.45 L97.77,296.31 L97.95,296.16 L98.14,296.02 L98.32,295.87 L98.50,295.73 L98.69,295.58 L98.87,295.44 L99.05,295.29 L99.23,295.14 L99.41,295.00 L99.60,294.85 L99.78,294.70 L99.96,294.55 L100.14,294.41 L100.32,294.26 L100.50,294.11 L100.68,293.96 L100.86,293.81 L101.03,293.66 L101.21,293.51 L101.39,293.36 L101.57,293.21 L101.75,293.06 L101.92,292.91 L102.10,292.76 L102.28,292.60 L102.45,292.45 L102.63,292.30 L102.81,292.15 L102.98,291.99 L103.16,291.84 L103.33,291.68 L103.51,291.53 L103.68,291.38 L103.85,291.22 L104.03,291.06 L104.20,290.91 L104.37,290.75 L104.54,290.60 L104.71,290.44 L104.89,290.28 L105.06,290.12 L105.23,289.97 L105.40,289.81 L105.57,289.65 L105.74,289.49 L105.91,289.33 L106.07,289.17 L106.24,289.01 L106.41,288.85 L106.58,288.69 L106.75,288.53 L106.91,288.37 L107.08,288.20 L107.24,288.04 L107.41,287.88 L107.57,287.72 L107.74,287.55 L107.90,287.39 L108.07,287.22 L108.23,287.06 L108.39,286.89 L108.56,286.73 L108.72,286.56 L108.88,286.40 L109.04,286.23 L109.20,286.06 L109.36,285.90 L109.52,285.73 L109.68,285.56 L109.84,285.39 L110.00,285.22 L110.16,285.05 L110.31,284.88 L110.47,284.71 L110.63,284.54 L110.78,284.37 L110.94,284.20 L111.09,284.03 L111.25,283.85 L111.40,283.68 L111.56,283.51 L111.71,283.33 L111.86,283.16 L112.01,282.98 L112.17,282.81 L112.32,282.63 L112.47,282.46 L112.62,282.28 L112.77,282.10 L112.92,281.93 L113.07,281.75 L113.22,281.57 L113.36,281.39 L113.51,281.21 L113.66,281.03 L113.80,280.85 L113.95,280.67 L114.09,280.49 L114.24,280.31 L114.38,280.13 L114.53,279.95 L114.67,279.77 L114.81,279.58 L114.95,279.40 L115.10,279.22 L115.24,279.03 L115.38,278.85 L115.52,278.66 L115.66,278.47 L115.79,278.29 L115.93,278.10 L116.07,277.91 L116.21,277.73 L116.34,277.54 L116.48,277.35 L116.61,277.16 L116.75,276.97 L116.88,276.78 L117.02,276.59 L117.15,276.40 L117.28,276.21 L117.41,276.01 L117.54,275.82 L117.67,275.63 L117.80,275.44 L117.93,275.24 L118.06,275.05 L118.19,274.85 L118.32,274.66 L118.45,274.46 L118.57,274.27 L118.70,274.07 L118.83,273.87 L118.95,273.68 L119.08,273.48 L119.20,273.28 L119.33,273.08 L119.45,272.89 L119.58,272.69 L119.70,272.49 L119.83,272.29 L119.95,272.09 L120.08,271.90 L120.20,271.70 L120.33,271.50 L120.45,271.30 L120.57,271.10 L120.70,270.91 L120.82,270.71 L120.95,270.51 L121.07,270.31 L121.20,270.11 L121.32,269.92 L121.45,269.72 L121.57,269.52 L121.70,269.32 L121.83,269.13 L121.95,268.93 L122.08,268.74 L122.21,268.54 L122.33,268.34 L122.46,268.15 L122.59,267.95 L122.72,267.76 L122.85,267.57 L122.98,267.37 L123.11,267.18 L123.24,266.99 L123.37,266.80 L123.50,266.60 L123.64,266.41 L123.77,266.22 L123.91,266.03 L124.04,265.84 L124.18,265.66 L124.31,265.47 L124.45,265.28 L124.59,265.09 L124.73,264.91 L124.87,264.72 L125.01,264.54 L125.15,264.36 L125.30,264.17 L125.44,263.99 L125.59,263.81 L125.73,263.63 L125.88,263.45 L126.03,263.28 L126.18,263.10 L126.33,262.92 L126.48,262.75 L126.63,262.57 L126.79,262.40 L126.94,262.23 L127.10,262.06 L127.26,261.89 L127.42,261.72 L127.58,261.55 L127.74,261.39 L127.91,261.22 L128.07,261.06 L128.24,260.90 L128.41,260.73 L128.58,260.57 L128.75,260.42 L128.93,260.26 L129.10,260.10 L129.28,259.95 L129.46,259.80 L129.64,259.64 L129.82,259.49 L130.00,259.35 L130.19,259.20" fill="none" stroke="#3747cc" stroke-width="2.3" stroke-linejoin="round" stroke-linecap="butt"/><path d="M81.43,356.85 L81.74,356.81 L82.06,356.77 L82.38,356.73 L82.70,356.70 L83.02,356.67 L83.34,356.64 L83.66,356.62 L83.98,356.60 L84.30,356.58 L84.63,356.56 L84.95,356.55 L85.28,356.54 L85.60,356.53 L85.93,356.53 L86.26,356.52 L86.58,356.52 L86.91,356.52 L87.24,356.53 L87.57,356.53 L87.90,356.54 L88.23,356.54 L88.56,356.55 L88.89,356.56 L89.23,356.58 L89.56,356.59 L89.89,356.60 L90.22,356.62 L90.56,356.63 L90.89,356.65 L91.22,356.67 L91.56,356.69 L91.89,356.70 L92.23,356.72 L92.56,356.74 L92.90,356.76 L93.23,356.78 L93.57,356.80 L93.90,356.82 L94.24,356.83 L94.58,356.85 L94.91,356.87 L95.25,356.89 L95.58,356.90 L95.92,356.92 L96.26,356.93 L96.59,356.95 L96.93,356.96 L97.26,356.97 L97.60,356.98 L97.93,356.99 L98.27,357.00 L98.61,357.01 L98.94,357.01 L99.27,357.01 L99.61,357.01 L99.94,357.01 L100.28,357.01 L100.61,357.00 L100.94,356.99 L101.28,356.98 L101.61,356.97 L101.94,356.96 L102.27,356.94 L102.61,356.92 L102.94,356.89 L103.27,356.87 L103.60,356.84 L103.93,356.80 L104.25,356.77 L104.58,356.73 L104.91,356.68 L105.24,356.64 L105.56,356.58 L105.89,356.53 L106.21,356.47 L106.54,356.41 L106.86,356.34 L107.18,356.27 L107.51,356.20 L107.83,356.12 L108.14,356.03 L108.46,355.95 L108.78,355.85 L109.09,355.76 L109.40,355.65 L109.71,355.55 L110.02,355.43 L110.32,355.32 L110.62,355.19 L110.92,355.07 L111.22,354.93 L111.51,354.80 L111.80,354.65 L112.09,354.50 L112.37,354.35 L112.65,354.19 L112.93,354.02 L113.20,353.85 L113.47,353.67 L113.73,353.48 L113.99,353.29 L114.25,353.10 L114.50,352.89 L114.75,352.68 L114.99,352.47 L115.23,352.25 L115.47,352.03 L115.69,351.80 L115.92,351.56 L116.14,351.32 L116.36,351.08 L116.57,350.83 L116.78,350.58 L116.98,350.32 L117.18,350.06 L117.37,349.80 L117.56,349.53 L117.74,349.26 L117.92,348.98 L118.10,348.70 L118.27,348.42 L118.43,348.14 L118.59,347.86 L118.75,347.57 L118.90,347.28 L119.05,346.99 L119.19,346.69 L119.32,346.40 L119.46,346.10 L119.59,345.80 L119.71,345.50 L119.83,345.19 L119.95,344.89 L120.06,344.58 L120.17,344.27 L120.28,343.96 L120.38,343.65 L120.48,343.34 L120.58,343.02 L120.67,342.71 L120.76,342.39 L120.85,342.07 L120.94,341.76 L121.02,341.44 L121.10,341.11 L121.18,340.79 L121.26,340.47 L121.33,340.15 L121.41,339.82 L121.48,339.50 L121.55,339.17 L121.62,338.85 L121.69,338.52 L121.75,338.19 L121.82,337.86 L121.88,337.54 L121.95,337.21 L122.01,336.88 L122.07,336.55 L122.14,336.22 L122.20,335.90 L122.26,335.57 L122.32,335.24 L122.38,334.91 L122.45,334.58 L122.51,334.26 L122.57,333.93 L122.63,333.60 L122.69,333.27 L122.75,332.94 L122.81,332.62 L122.87,332.29 L122.93,331.96 L122.99,331.63 L123.05,331.31 L123.11,330.98 L123.17,330.65 L123.23,330.32 L123.29,330.00 L123.35,329.67 L123.41,329.34 L123.47,329.01 L123.53,328.69 L123.58,328.36 L123.64,328.03 L123.70,327.70 L123.76,327.38 L123.82,327.05 L123.87,326.72 L123.93,326.39 L123.99,326.07 L124.05,325.74 L124.10,325.41 L124.16,325.09 L124.21,324.76 L124.27,324.43 L124.33,324.10 L124.38,323.78 L124.44,323.45 L124.49,323.12 L124.55,322.80 L124.60,322.47 L124.66,322.14 L124.71,321.81 L124.77,321.49 L124.82,321.16 L124.88,320.83 L124.93,320.51 L124.98,320.18 L125.04,319.85 L125.09,319.53 L125.14,319.20 L125.20,318.87 L125.25,318.55 L125.30,318.22 L125.35,317.89 L125.40,317.57 L125.46,317.24 L125.51,316.91 L125.56,316.58 L125.61,316.26 L125.66,315.93 L125.71,315.60 L125.76,315.28 L125.81,314.95 L125.86,314.62 L125.91,314.30 L125.96,313.97 L126.01,313.64 L126.06,313.32 L126.11,312.99 L126.16,312.66 L126.21,312.34 L126.26,312.01 L126.31,311.68 L126.35,311.36 L126.40,311.03 L126.45,310.70 L126.50,310.38 L126.54,310.05 L126.59,309.72 L126.64,309.39 L126.68,309.07 L126.73,308.74 L126.78,308.41 L126.82,308.09 L126.87,307.76 L126.91,307.43 L126.96,307.11 L127.00,306.78 L127.05,306.45 L127.09,306.13 L127.14,305.80 L127.18,305.47 L127.22,305.14 L127.27,304.82 L127.31,304.49 L127.35,304.16 L127.40,303.84 L127.44,303.51 L127.48,303.18 L127.52,302.85 L127.57,302.53 L127.61,302.20 L127.65,301.87 L127.69,301.55 L127.73,301.22 L127.77,300.89 L127.81,300.56 L127.85,300.24 L127.89,299.91 L127.93,299.58 L127.97,299.25 L128.01,298.93 L128.05,298.60 L128.09,298.27 L128.13,297.94 L128.17,297.62 L128.21,297.29 L128.24,296.96 L128.28,296.63 L128.32,296.31 L128.36,295.98 L128.39,295.65 L128.43,295.32 L128.46,294.99 L128.50,294.67 L128.54,294.34 L128.57,294.01 L128.61,293.68 L128.64,293.35 L128.68,293.03 L128.71,292.70 L128.75,292.37 L128.78,292.04 L128.81,291.71 L128.85,291.38 L128.88,291.06 L128.91,290.73 L128.95,290.40 L128.98,290.07 L129.01,289.74 L129.04,289.41 L129.08,289.08 L129.11,288.76 L129.14,288.43 L129.17,288.10 L129.20,287.77 L129.23,287.44 L129.26,287.11 L129.29,286.78 L129.32,286.45 L129.35,286.12 L129.38,285.79 L129.41,285.47 L129.44,285.14 L129.46,284.81 L129.49,284.48 L129.52,284.15 L129.55,283.82 L129.58,283.49 L129.60,283.16 L129.63,282.83 L129.66,282.50 L129.68,282.17 L129.71,281.84 L129.73,281.51 L129.76,281.18 L129.78,280.85 L129.81,280.52 L129.83,280.19 L129.86,279.86 L129.88,279.53 L129.90,279.20 L129.93,278.87 L129.95,278.54 L129.97,278.21 L130.00,277.88 L130.02,277.54 L130.04,277.21 L130.06,276.88 L130.08,276.55 L130.10,276.22 L130.12,275.89 L130.14,275.56 L130.16,275.23 L130.18,274.89 L130.20,274.56 L130.22,274.23 L130.24,273.90 L130.26,273.57 L130.28,273.24 L130.30,272.90 L130.32,272.57 L130.33,272.24 L130.35,271.91 L130.37,271.58 L130.38,271.24 L130.40,270.91 L130.42,270.58 L130.43,270.25 L130.45,269.91 L130.46,269.58 L130.48,269.25 L130.49,268.91 L130.51,268.58 L130.52,268.25 L130.53,267.91 L130.55,267.58 L130.56,267.25 L130.57,266.91 L130.58,266.58 L130.60,266.25 L130.61,265.91 L130.62,265.58 L130.63,265.25 L130.64,264.91 L130.65,264.58 L130.66,264.24 L130.67,263.91 L130.68,263.57 L130.69,263.24 L130.70,262.90 L130.71,262.57 L130.72,262.23 L130.72,261.90 L130.73,261.56 L130.74,261.23 L130.75,260.89 L130.75,260.56 L130.76,260.22 L130.77,259.89 L130.77,259.55 L130.78,259.22 L130.78,258.88 L130.79,258.54 L130.79,258.21 L130.80,257.87 L130.80,257.53 L132.85,258.14 L134.89,258.74 L136.94,259.35 L138.98,259.96 L141.03,260.58 L143.08,261.20 L145.12,261.82 L147.17,262.44 L149.22,263.07 L151.26,263.70 L153.31,264.33 L155.35,264.97 L157.40,265.61 L159.45,266.26 L161.49,266.90 L163.54,267.55 L165.59,268.21 L167.63,268.87 L169.68,269.53 L171.72,270.19 L173.77,270.86 L175.82,271.54 L177.86,272.21 L179.91,272.89 L181.96,273.58 L184.00,274.26 L186.05,274.95 L188.09,275.65 L190.14,276.35 L192.19,277.05 L194.23,277.76 L196.28,278.47 L198.32,279.18 L200.37,279.90 L202.42,280.63 L204.46,281.35 L206.51,282.08 L208.56,282.82 L210.60,283.56 L212.65,284.30 L214.69,285.05 L216.74,285.80 L218.79,286.56 L220.83,287.32 L222.88,288.09 L224.93,288.86 L226.97,289.63 L229.02,290.41 L231.06,291.19 L233.11,291.98 L235.16,292.77 L237.20,293.57 L239.25,294.37 L241.30,295.18 L243.34,295.99 L245.39,296.81 L247.43,297.63 L249.48,298.46 L251.53,299.29 L253.57,300.12 L255.62,300.96 L257.67,301.81 L259.71,302.66 L261.76,303.52 L263.80,304.38 L265.85,305.24 L267.90,306.11 L269.94,306.99 L271.99,307.87 L274.04,308.76 L276.08,309.65 L278.13,310.55 L280.17,311.45 L282.22,312.36 L284.27,313.27 L286.31,314.19 L288.36,315.11 L290.40,316.04 L292.45,316.98 L294.50,317.92 L296.54,318.86 L298.59,319.82 L300.64,320.77 L302.68,321.74 L304.73,322.71 L306.77,323.68 L308.82,324.66 L310.87,325.65 L312.91,326.64 L314.96,327.64 L317.01,328.64 L319.05,329.65 L321.10,330.67 L323.14,331.69 L325.19,332.72 L327.24,333.75 L329.28,334.79 L331.33,335.84 L333.38,336.89 L335.42,337.95 L337.47,339.02 L339.51,340.09 L341.56,341.17 L343.61,342.25 L345.65,343.34 L347.70,344.44 L349.75,345.54 L351.79,346.65 L353.84,347.77 L355.88,348.89 L357.93,350.02 L359.98,351.16 L362.02,352.30 L364.07,353.45 L366.12,354.61 L368.16,355.77 L370.21,356.94 L372.25,358.12 L374.30,359.30" fill="none" stroke="#d61c2c" stroke-width="2.3" stroke-linejoin="round" stroke-linecap="butt"/></g>
<g clip-path="url(#cd)"><path d="M442.20,249.93 L443.20,250.11 L444.20,250.29 L445.21,250.47 L446.21,250.65 L447.21,250.84 L448.21,251.03 L449.21,251.22 L450.22,251.41 L451.22,251.60 L452.22,251.80 L453.22,251.99 L454.22,252.19 L455.23,252.39 L456.23,252.60 L457.23,252.80 L458.23,253.01 L459.23,253.22 L460.24,253.43 L461.24,253.64 L462.24,253.85 L463.24,254.07 L464.24,254.28 L465.25,254.50 L466.25,254.72 L467.25,254.94 L468.25,255.16 L469.25,255.39 L470.26,255.61 L471.26,255.84 L472.26,256.07 L473.26,256.30 L474.26,256.53 L475.27,256.77 L476.27,257.00 L477.27,257.24 L478.27,257.47 L479.27,257.71 L480.28,257.95 L481.28,258.20 L482.28,258.44 L483.28,258.68 L484.28,258.93 L485.29,259.18 L486.29,259.42 L487.29,259.67 L488.29,259.93 L489.29,260.18 L490.30,260.43 L491.30,260.69 L492.30,260.94 L493.30,261.20 L494.30,261.46 L495.31,261.72 L496.31,261.98 L497.31,262.24 L498.31,262.50 L499.31,262.77 L500.32,263.03 L501.32,263.30 L502.32,263.56 L503.32,263.83 L504.32,264.10 L505.33,264.37 L506.33,264.64 L507.33,264.91 L508.33,265.19 L509.33,265.46 L510.34,265.74 L511.34,266.01 L512.34,266.29 L513.34,266.57 L514.34,266.84 L515.35,267.12 L516.35,267.40 L517.35,267.68 L518.35,267.97 L519.36,268.25 L520.36,268.53 L521.36,268.81 L522.36,269.10 L523.36,269.38 L524.37,269.67 L525.37,269.96 L526.37,270.24 L527.37,270.53 L528.37,270.82 L529.38,271.11 L530.38,271.40 L531.38,271.69 L532.38,271.98 L533.38,272.27 L534.39,272.56 L535.39,272.86 L536.39,273.15 L537.39,273.44 L538.39,273.74 L539.40,274.03 L540.40,274.33 L541.40,274.62 L542.40,274.92 L543.40,275.21 L544.41,275.51 L545.41,275.81 L546.41,276.10 L547.41,276.40 L548.41,276.70 L549.42,277.00 L550.42,277.30 L551.42,277.59 L552.42,277.89 L553.42,278.19 L554.43,278.49 L555.43,278.79 L556.43,279.09 L557.43,279.39 L558.43,279.69 L559.44,279.99 L560.44,280.29 L561.44,280.59 L562.44,280.89 L563.44,281.19 L564.45,281.49 L565.45,281.79 L566.45,282.09 L567.45,282.39 L568.45,282.69 L569.46,282.99 L570.46,283.29 L571.46,283.60 L572.46,283.90 L573.46,284.20 L574.47,284.50 L575.47,284.80 L576.47,285.10 L577.47,285.40 L578.47,285.70 L579.48,285.99 L580.48,286.29 L581.48,286.59 L582.48,286.89 L583.48,287.19 L584.49,287.49 L585.49,287.79 L586.49,288.08 L587.49,288.38 L588.49,288.68 L589.50,288.98 L590.50,289.27 L591.50,289.57" fill="none" stroke="#0b0b0b" stroke-width="2.15" stroke-linejoin="round" stroke-linecap="butt"/><path d="M442.20,294.75 L443.20,294.74 L444.20,294.74 L445.21,294.74 L446.21,294.73 L447.21,294.72 L448.21,294.72 L449.21,294.71 L450.22,294.70 L451.22,294.69 L452.22,294.68 L453.22,294.67 L454.22,294.66 L455.23,294.65 L456.23,294.63 L457.23,294.62 L458.23,294.60 L459.23,294.59 L460.24,294.57 L461.24,294.55 L462.24,294.54 L463.24,294.52 L464.24,294.50 L465.25,294.48 L466.25,294.46 L467.25,294.43 L468.25,294.41 L469.25,294.39 L470.26,294.37 L471.26,294.34 L472.26,294.32 L473.26,294.29 L474.26,294.26 L475.27,294.24 L476.27,294.21 L477.27,294.18 L478.27,294.15 L479.27,294.12 L480.28,294.09 L481.28,294.06 L482.28,294.03 L483.28,294.00 L484.28,293.97 L485.29,293.94 L486.29,293.90 L487.29,293.87 L488.29,293.84 L489.29,293.80 L490.30,293.77 L491.30,293.73 L492.30,293.69 L493.30,293.66 L494.30,293.62 L495.31,293.58 L496.31,293.54 L497.31,293.51 L498.31,293.47 L499.31,293.43 L500.32,293.39 L501.32,293.35 L502.32,293.31 L503.32,293.27 L504.32,293.23 L505.33,293.18 L506.33,293.14 L507.33,293.10 L508.33,293.06 L509.33,293.01 L510.34,292.97 L511.34,292.93 L512.34,292.88 L513.34,292.84 L514.34,292.80 L515.35,292.75 L516.35,292.71 L517.35,292.66 L518.35,292.61 L519.36,292.57 L520.36,292.52 L521.36,292.48 L522.36,292.43 L523.36,292.38 L524.37,292.34 L525.37,292.29 L526.37,292.24 L527.37,292.20 L528.37,292.15 L529.38,292.10 L530.38,292.05 L531.38,292.00 L532.38,291.96 L533.38,291.91 L534.39,291.86 L535.39,291.81 L536.39,291.76 L537.39,291.71 L538.39,291.67 L539.40,291.62 L540.40,291.57 L541.40,291.52 L542.40,291.47 L543.40,291.42 L544.41,291.37 L545.41,291.32 L546.41,291.28 L547.41,291.23 L548.41,291.18 L549.42,291.13 L550.42,291.08 L551.42,291.03 L552.42,290.98 L553.42,290.93 L554.43,290.89 L555.43,290.84 L556.43,290.79 L557.43,290.74 L558.43,290.69 L559.44,290.64 L560.44,290.60 L561.44,290.55 L562.44,290.50 L563.44,290.46 L564.45,290.41 L565.45,290.36 L566.45,290.32 L567.45,290.27 L568.45,290.23 L569.46,290.18 L570.46,290.14 L571.46,290.09 L572.46,290.05 L573.46,290.01 L574.47,289.97 L575.47,289.92 L576.47,289.88 L577.47,289.84 L578.47,289.80 L579.48,289.76 L580.48,289.73 L581.48,289.69 L582.48,289.65 L583.48,289.62 L584.49,289.58 L585.49,289.55 L586.49,289.51 L587.49,289.48 L588.49,289.45 L589.50,289.42 L590.50,289.39 L591.50,289.36" fill="none" stroke="#3747cc" stroke-width="2.3" stroke-linejoin="round" stroke-linecap="butt"/><path d="M442.17,350.62 L442.64,350.61 L443.11,350.60 L443.58,350.60 L444.05,350.59 L444.51,350.59 L444.98,350.58 L445.45,350.58 L445.92,350.57 L446.38,350.57 L446.85,350.56 L447.31,350.56 L447.78,350.55 L448.24,350.55 L448.71,350.54 L449.17,350.54 L449.64,350.54 L450.10,350.53 L450.56,350.53 L451.02,350.53 L451.48,350.52 L451.95,350.52 L452.41,350.52 L452.87,350.51 L453.33,350.51 L453.79,350.51 L454.25,350.51 L454.71,350.50 L455.16,350.50 L455.62,350.50 L456.08,350.50 L456.54,350.50 L457.00,350.49 L457.45,350.49 L457.91,350.49 L458.37,350.49 L458.82,350.49 L459.28,350.49 L459.73,350.48 L460.19,350.48 L460.64,350.48 L461.10,350.48 L461.55,350.48 L462.01,350.48 L462.46,350.48 L462.91,350.48 L463.37,350.48 L463.82,350.48 L464.27,350.48 L464.72,350.48 L465.18,350.48 L465.63,350.48 L466.08,350.48 L466.53,350.48 L466.98,350.48 L467.43,350.47 L467.88,350.47 L468.34,350.47 L468.79,350.47 L469.24,350.47 L469.69,350.47 L470.14,350.47 L470.59,350.47 L471.04,350.48 L471.48,350.48 L471.93,350.48 L472.38,350.48 L472.83,350.48 L473.28,350.48 L473.73,350.48 L474.18,350.48 L474.63,350.48 L475.08,350.48 L475.52,350.48 L475.97,350.48 L476.42,350.48 L476.87,350.48 L477.32,350.48 L477.76,350.48 L478.21,350.48 L478.66,350.48 L479.11,350.48 L479.55,350.48 L480.00,350.48 L480.45,350.48 L480.89,350.48 L481.34,350.48 L481.79,350.48 L482.24,350.48 L482.68,350.48 L483.13,350.48 L483.58,350.48 L484.02,350.48 L484.47,350.48 L484.92,350.48 L485.37,350.47 L485.81,350.47 L486.26,350.47 L486.71,350.47 L487.15,350.47 L487.60,350.47 L488.05,350.47 L488.50,350.47 L488.94,350.47 L489.39,350.47 L489.84,350.46 L490.28,350.46 L490.73,350.46 L491.18,350.46 L491.63,350.46 L492.08,350.46 L492.52,350.45 L492.97,350.45 L493.42,350.45 L493.87,350.45 L494.32,350.45 L494.76,350.44 L495.21,350.44 L495.66,350.44 L496.11,350.43 L496.56,350.43 L497.01,350.43 L497.46,350.43 L497.91,350.42 L498.36,350.42 L498.81,350.41 L499.25,350.41 L499.70,350.41 L500.16,350.40 L500.61,350.40 L501.06,350.39 L501.51,350.39 L501.96,350.38 L502.41,350.38 L502.86,350.37 L503.31,350.37 L503.76,350.36 L504.22,350.36 L504.67,350.35 L505.12,350.35 L505.57,350.34 L506.03,350.33 L506.48,350.33 L506.93,350.32 L507.39,350.31 L507.84,350.31 L508.30,350.30 L508.75,350.29 L509.20,350.28 L509.66,350.28 L510.12,350.27 L510.57,350.26 L511.03,350.25 L511.48,350.24 L511.94,350.23 L512.40,350.22 L512.85,350.21 L513.31,350.20 L513.77,350.19 L514.23,350.18 L514.69,350.17 L515.15,350.16 L515.61,350.15 L516.07,350.14 L516.53,350.13 L516.99,350.12 L517.45,350.11 L517.91,350.09 L518.37,350.08 L518.83,350.07 L519.30,350.05 L519.76,350.04 L520.22,350.03 L520.69,350.01 L521.15,350.00 L521.62,349.99 L522.08,349.97 L522.55,349.96 L523.01,349.94 L523.48,349.92 L523.94,349.91 L524.41,349.89 L524.87,349.87 L525.34,349.85 L525.81,349.83 L526.27,349.81 L526.74,349.79 L527.21,349.77 L527.67,349.74 L528.14,349.72 L528.60,349.69 L529.07,349.66 L529.54,349.64 L530.00,349.61 L530.47,349.58 L530.93,349.55 L531.40,349.51 L531.86,349.48 L532.33,349.44 L532.79,349.41 L533.25,349.37 L533.72,349.33 L534.18,349.29 L534.64,349.24 L535.10,349.20 L535.57,349.15 L536.03,349.11 L536.49,349.06 L536.95,349.00 L537.40,348.95 L537.86,348.90 L538.32,348.84 L538.78,348.78 L539.23,348.72 L539.69,348.65 L540.14,348.59 L540.60,348.52 L541.05,348.45 L541.50,348.38 L541.95,348.30 L542.40,348.23 L542.85,348.15 L543.30,348.07 L543.74,347.98 L544.19,347.89 L544.63,347.81 L545.08,347.71 L545.52,347.62 L545.96,347.52 L546.40,347.42 L546.84,347.32 L547.28,347.21 L547.71,347.11 L548.15,346.99 L548.58,346.88 L549.01,346.76 L549.44,346.64 L549.87,346.52 L550.30,346.39 L550.73,346.26 L551.15,346.13 L551.57,345.99 L551.99,345.86 L552.41,345.71 L552.83,345.57 L553.25,345.42 L553.66,345.26 L554.08,345.11 L554.49,344.95 L554.90,344.78 L555.30,344.62 L555.71,344.45 L556.11,344.27 L556.51,344.09 L556.91,343.91 L557.31,343.72 L557.71,343.53 L558.10,343.34 L558.49,343.14 L558.88,342.94 L559.27,342.74 L559.66,342.52 L560.04,342.31 L560.42,342.09 L560.80,341.87 L561.17,341.64 L561.55,341.41 L561.92,341.18 L562.29,340.93 L562.66,340.69 L563.02,340.44 L563.38,340.19 L563.74,339.93 L564.10,339.67 L564.45,339.40 L564.81,339.13 L565.16,338.85 L565.50,338.57 L565.85,338.29 L566.19,338.00 L566.53,337.71 L566.86,337.41 L567.20,337.11 L567.53,336.80 L567.85,336.50 L568.18,336.18 L568.50,335.87 L568.82,335.55 L569.14,335.23 L569.45,334.90 L569.76,334.57 L570.06,334.23 L570.37,333.90 L570.67,333.56 L570.96,333.21 L571.26,332.86 L571.55,332.51 L571.84,332.16 L572.12,331.80 L572.40,331.44 L572.68,331.08 L572.95,330.71 L573.22,330.35 L573.49,329.97 L573.75,329.60 L574.01,329.22 L574.27,328.84 L574.52,328.46 L574.77,328.08 L575.02,327.69 L575.26,327.30 L575.50,326.91 L575.73,326.51 L575.96,326.11 L576.19,325.72 L576.41,325.31 L576.63,324.91 L576.85,324.50 L577.06,324.10 L577.27,323.69 L577.48,323.28 L577.68,322.86 L577.88,322.45 L578.08,322.03 L578.27,321.61 L578.46,321.19 L578.65,320.77 L578.84,320.35 L579.02,319.93 L579.20,319.50 L579.38,319.08 L579.56,318.65 L579.73,318.22 L579.91,317.79 L580.08,317.36 L580.24,316.93 L580.41,316.49 L580.57,316.06 L580.74,315.63 L580.90,315.19 L581.06,314.76 L581.22,314.32 L581.37,313.89 L581.53,313.45 L581.68,313.01 L581.84,312.57 L581.99,312.14 L582.14,311.70 L582.29,311.26 L582.44,310.82 L582.59,310.38 L582.74,309.95 L582.88,309.51 L583.03,309.07 L583.18,308.63 L583.32,308.20 L583.47,307.76 L583.62,307.33 L583.76,306.89 L583.91,306.45 L584.06,306.02 L584.20,305.59 L584.35,305.15 L584.50,304.72 L584.65,304.29 L584.80,303.86 L584.95,303.43 L585.10,303.00 L585.25,302.58 L585.40,302.15 L585.56,301.73 L585.72,301.30 L585.88,300.88 L586.04,300.46 L586.20,300.04 L586.36,299.62 L586.53,299.21 L586.70,298.79 L586.87,298.38 L587.05,297.97 L587.23,297.56 L587.41,297.16 L587.59,296.75 L587.78,296.35 L587.97,295.95 L588.16,295.55 L588.36,295.15 L588.56,294.76 L588.76,294.37 L588.97,293.98 L589.18,293.59 L589.40,293.21 L589.62,292.83 L589.84,292.45 L590.07,292.07 L590.31,291.70 L590.55,291.33 L590.79,290.96 L591.04,290.60 L591.29,290.24 L592.50,290.70 L593.71,291.17 L594.92,291.63 L596.13,292.10 L597.34,292.57 L598.55,293.05 L599.76,293.52 L600.97,294.00 L602.18,294.47 L603.39,294.95 L604.60,295.43 L605.81,295.92 L607.01,296.40 L608.22,296.89 L609.43,297.37 L610.64,297.86 L611.85,298.35 L613.06,298.85 L614.27,299.34 L615.48,299.84 L616.69,300.33 L617.90,300.83 L619.11,301.33 L620.32,301.84 L621.53,302.34 L622.74,302.85 L623.94,303.36 L625.15,303.87 L626.36,304.38 L627.57,304.89 L628.78,305.41 L629.99,305.92 L631.20,306.44 L632.41,306.96 L633.62,307.49 L634.83,308.01 L636.04,308.54 L637.25,309.07 L638.46,309.60 L639.67,310.13 L640.87,310.66 L642.08,311.20 L643.29,311.73 L644.50,312.27 L645.71,312.81 L646.92,313.36 L648.13,313.90 L649.34,314.45 L650.55,315.00 L651.76,315.55 L652.97,316.10 L654.18,316.66 L655.39,317.21 L656.60,317.77 L657.81,318.33 L659.01,318.89 L660.22,319.46 L661.43,320.03 L662.64,320.59 L663.85,321.16 L665.06,321.74 L666.27,322.31 L667.48,322.89 L668.69,323.47 L669.90,324.05 L671.11,324.63 L672.32,325.21 L673.53,325.80 L674.74,326.39 L675.94,326.98 L677.15,327.57 L678.36,328.17 L679.57,328.77 L680.78,329.36 L681.99,329.97 L683.20,330.57 L684.41,331.17 L685.62,331.78 L686.83,332.39 L688.04,333.00 L689.25,333.62 L690.46,334.23 L691.67,334.85 L692.87,335.47 L694.08,336.10 L695.29,336.72 L696.50,337.35 L697.71,337.98 L698.92,338.61 L700.13,339.24 L701.34,339.88 L702.55,340.51 L703.76,341.15 L704.97,341.80 L706.18,342.44 L707.39,343.09 L708.60,343.74 L709.80,344.39 L711.01,345.04 L712.22,345.70 L713.43,346.36 L714.64,347.02 L715.85,347.68 L717.06,348.34 L718.27,349.01 L719.48,349.68 L720.69,350.35 L721.90,351.03 L723.11,351.70 L724.32,352.38 L725.53,353.06 L726.73,353.75 L727.94,354.43 L729.15,355.12 L730.36,355.81 L731.57,356.51 L732.78,357.20 L733.99,357.90 L735.20,358.60" fill="none" stroke="#d61c2c" stroke-width="2.3" stroke-linejoin="round" stroke-linecap="butt"/></g>
<text x="315" y="406.4" class="t" style="font-size:11.8px">Generations since populations diverged</text>
</svg>
</body></html>
